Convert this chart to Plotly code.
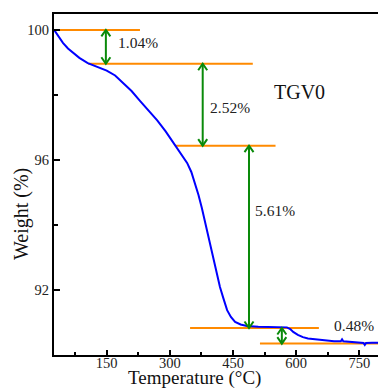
import plotly.graph_objects as go

# TGA curve of TGV0: temperature (°C) vs remaining weight (%)
temperature = [25, 35, 46, 58, 70, 85, 105, 128, 150, 170, 189, 209, 229, 250, 270,
               290, 312, 327, 341, 351, 360, 368, 376, 382, 388, 395, 402, 410, 419,
               427, 436, 445, 455, 468, 483, 510, 545, 578, 586, 593, 604, 616, 628,
               640, 656, 673, 690, 706, 709, 712, 735, 750, 760, 763, 766, 780, 800]
weight = [100.00, 99.82, 99.60, 99.43, 99.29, 99.14, 98.98, 98.86, 98.75, 98.60,
          98.37, 98.12, 97.82, 97.51, 97.22, 96.88, 96.46, 96.18, 95.91, 95.63,
          95.29, 94.92, 94.52, 94.18, 93.85, 93.45, 93.02, 92.62, 92.09, 91.75,
          91.38, 91.17, 91.02, 90.94, 90.89, 90.87, 90.86, 90.85, 90.80, 90.71,
          90.62, 90.55, 90.51, 90.49, 90.46, 90.43, 90.42, 90.42, 90.48, 90.42,
          90.40, 90.38, 90.37, 90.31, 90.37, 90.38, 90.38]

# Plateau levels (%) and the temperature span of each guide line
step_levels = [100.00, 98.96, 96.44, 90.83, 90.35]
step_start = [22, 106, 312, 348, 514]
step_end = [229, 497, 551, 654, 820]

# Weight-loss arrows between consecutive plateaus
arrow_temp = [148, 378, 488, 566]
loss_text = ["1.04%", "2.52%", "5.61%", "0.48%"]
loss_label_temp = [172, 391, 498, 684]
loss_label_weight = [99.62, 97.60, 94.44, 90.90]

x_ticks = [150, 300, 450, 600, 750]
y_ticks = [92, 96, 100]

W, H = 378, 391
M = dict(l=54, r=0, t=14, b=36)
x_range = [24.8, 794.4]
y_range = [90.0, 100.49]
px_per_x = (W - M["l"] - M["r"]) / (x_range[1] - x_range[0])
px_per_y = (H - M["t"] - M["b"]) / (y_range[1] - y_range[0])

FONT = "Liberation Serif"
ORANGE = "#FF8A00"
GREEN = "#0A8A0A"
BLUE = "#0000FF"

fig = go.Figure()

# orange plateau guide lines
for lvl, x0, x1 in zip(step_levels, step_start, step_end):
    fig.add_trace(go.Scatter(x=[x0, x1], y=[lvl, lvl], mode="lines",
                             line=dict(color=ORANGE, width=2), hoverinfo="skip"))

# the TGA curve
fig.add_trace(go.Scatter(x=temperature, y=weight, mode="lines",
                         line=dict(color=BLUE, width=2)))

# double-headed open arrows
dx = 4.5 / px_per_x
dy = 6.5 / px_per_y
for i, a in enumerate(arrow_temp):
    hi, lo = step_levels[i], step_levels[i + 1]
    xs = [a, a, None, a - dx, a, a + dx, None, a - dx, a, a + dx]
    ys = [hi, lo, None, hi - dy, hi, hi - dy, None, lo + dy, lo, lo + dy]
    fig.add_trace(go.Scatter(x=xs, y=ys, mode="lines",
                             line=dict(color=GREEN, width=2), hoverinfo="skip"))

for t, x, y in zip(loss_text, loss_label_temp, loss_label_weight):
    fig.add_annotation(x=x, y=y, text=t, showarrow=False, xanchor="left",
                       yanchor="middle", font=dict(family=FONT, size=15.5, color="#222"))

fig.add_annotation(x=542, y=98.09, text="TGV0", showarrow=False, xanchor="left",
                   yanchor="middle", font=dict(family=FONT, size=20, color="#111"))

# axis titles
fig.add_annotation(xref="paper", yref="paper", x=0.434, y=-0.1056,
                   text="Temperature (°C)", showarrow=False, xanchor="center",
                   yanchor="bottom", font=dict(family=FONT, size=19, color="#111"))
fig.add_annotation(xref="paper", yref="paper", x=-0.0988, y=0.4135,
                   text="Weight (%)", textangle=-90, showarrow=False,
                   xanchor="center", yanchor="middle",
                   font=dict(family=FONT, size=20, color="#111"))

fig.update_layout(
    width=W, height=H, margin=M, showlegend=False,
    paper_bgcolor="white", plot_bgcolor="white",
    font=dict(family=FONT, size=15, color="#222"),
)
fig.update_xaxes(
    range=x_range, tickvals=x_ticks, ticks="inside", ticklen=5, tickwidth=1.5,
    tickcolor="black", showline=True, linecolor="black", linewidth=2,
    mirror=True, showgrid=False, zeroline=False, ticklabelstandoff=-6,
    minor=dict(tickvals=[75, 225, 375, 525, 675], ticks="inside", ticklen=3,
               tickwidth=1.5, tickcolor="black", showgrid=False),
    tickfont=dict(family=FONT, size=14.5, color="#222"),
)
fig.update_yaxes(
    range=y_range, tickvals=y_ticks, ticks="inside", ticklen=6, tickwidth=1.5,
    tickcolor="black", showline=True, linecolor="black", linewidth=2,
    mirror=False, showgrid=False, zeroline=False,
    minor=dict(tickvals=[94, 98], ticks="inside", ticklen=4, tickwidth=1.5,
               tickcolor="black", showgrid=False),
    tickfont=dict(family=FONT, size=14.5, color="#222"),
)

fig.write_html("out.html")
